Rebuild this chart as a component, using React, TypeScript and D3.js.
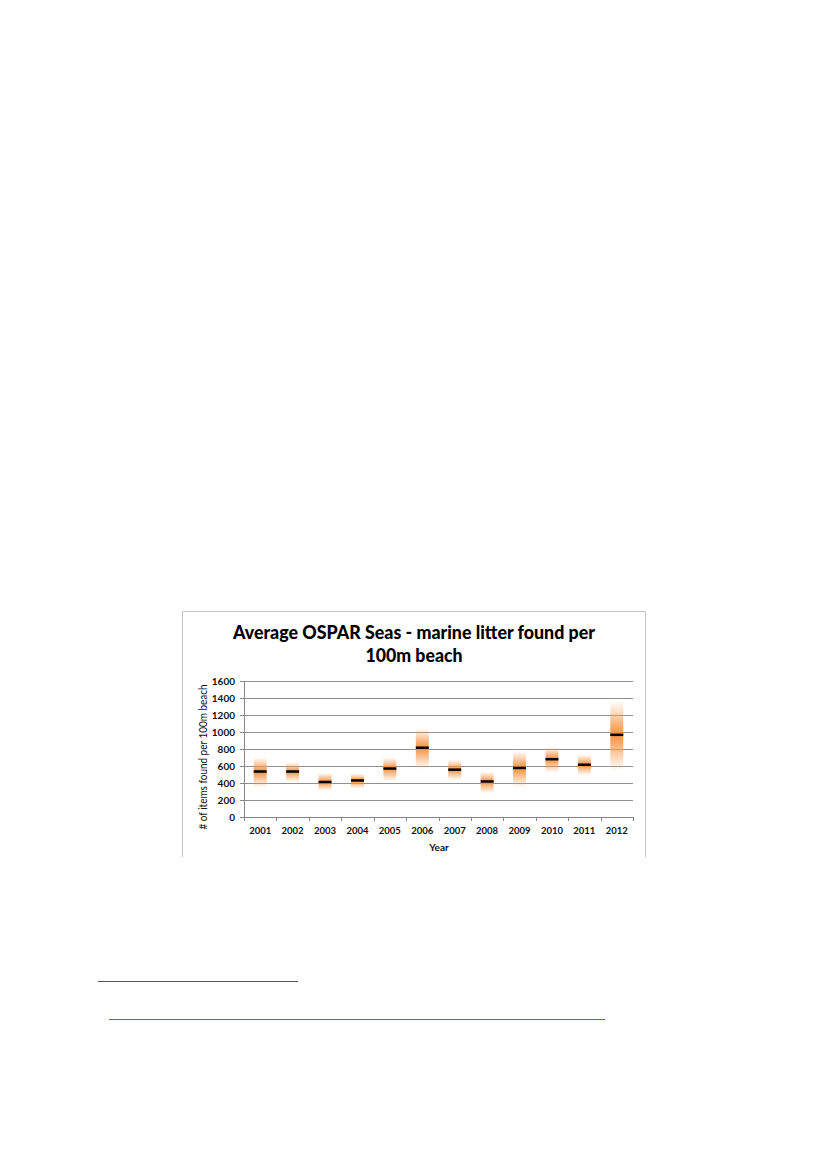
import React, { useEffect, useRef } from 'react';
import * as d3 from 'd3';

// Values: median and visible spread per year
const years = ['2001', '2002', '2003', '2004', '2005', '2006', '2007', '2008', '2009', '2010', '2011', '2012'];
const medians = [535, 535, 412, 430, 570, 815, 557, 418, 577, 680, 615, 967];
const lows = [350, 410, 308, 335, 420, 565, 435, 280, 350, 522, 492, 545];
const highs = [700, 645, 520, 512, 700, 1045, 675, 532, 775, 825, 735, 1365];
const yTicks = [0, 200, 400, 600, 800, 1000, 1200, 1400, 1600];

const ORANGE = '#F79646';
const GRID = '#858585';
const FONT = 'Lato, "Open Sans", sans-serif';

const App: React.FC = () => {
  const svgRef = useRef<SVGSVGElement>(null);

  useEffect(() => {
    if (!svgRef.current) return;
    const svg = d3.select(svgRef.current);
    svg.selectAll('*').remove();

    const left = 244;
    const right = 633;
    const bottom = 817;
    const top = 681;

    const x = d3.scaleBand<string>()
      .domain(years)
      .range([left, right])
      .paddingInner(0.6)
      .paddingOuter(0.3);
    const xCat = d3.scaleBand<string>().domain(years).range([left, right]);
    const y = d3.scaleLinear().domain([0, 1600]).range([bottom, top]);

    // chart frame (bottom edge is cut off on the page)
    svg.append('path')
      .attr('d', 'M182.5,857 V611.5 H645.5 V857')
      .attr('fill', 'none')
      .attr('stroke', '#C4C4C4')
      .attr('stroke-width', 1);

    // title
    const title = svg.append('text')
      .attr('text-anchor', 'middle')
      .attr('font-family', FONT)
      .attr('font-weight', 900)
      .attr('font-size', 19)
      .attr('fill', '#000');
    title.append('tspan').attr('x', 414).attr('y', 639).attr('textLength', 362)
      .attr('lengthAdjust', 'spacingAndGlyphs')
      .text('Average OSPAR Seas - marine litter found per');
    title.append('tspan').attr('x', 414).attr('y', 662).attr('textLength', 97)
      .attr('lengthAdjust', 'spacingAndGlyphs')
      .text('100m beach');

    // gridlines
    svg.append('g')
      .selectAll('line')
      .data(yTicks.filter(t => t > 0))
      .join('line')
      .attr('x1', left)
      .attr('x2', right)
      .attr('y1', d => Math.round(y(d)) + 0.5)
      .attr('y2', d => Math.round(y(d)) + 0.5)
      .attr('stroke', GRID)
      .attr('stroke-width', 0.9);

    // gradients
    const defs = svg.append('defs');
    years.forEach((yr, i) => {
      const m = (highs[i] - medians[i]) / (highs[i] - lows[i]);
      const g = defs.append('linearGradient')
        .attr('id', `grad-${yr}`)
        .attr('x1', 0).attr('x2', 0).attr('y1', 0).attr('y2', 1);
      const stops: [number, number][] = [
        [0, 0],
        [m * 0.45, 0.45],
        [m * 0.8, 0.85],
        [m, 1],
        [m + (1 - m) * 0.2, 0.85],
        [m + (1 - m) * 0.55, 0.45],
        [1, 0],
      ];
      stops.forEach(([o, op]) => {
        g.append('stop')
          .attr('offset', o)
          .attr('stop-color', ORANGE)
          .attr('stop-opacity', op);
      });
    });

    // boxes
    svg.append('g')
      .selectAll('rect')
      .data(years)
      .join('rect')
      .attr('x', d => x(d)!)
      .attr('width', x.bandwidth())
      .attr('y', (_, i) => y(highs[i]))
      .attr('height', (_, i) => y(lows[i]) - y(highs[i]))
      .attr('fill', d => `url(#grad-${d})`);

    // medians
    svg.append('g')
      .selectAll('line')
      .data(years)
      .join('line')
      .attr('x1', d => x(d)!)
      .attr('x2', d => x(d)! + x.bandwidth())
      .attr('y1', (_, i) => y(medians[i]))
      .attr('y2', (_, i) => y(medians[i]))
      .attr('stroke', '#000')
      .attr('stroke-width', 2.5);

    // axes
    svg.append('line')
      .attr('x1', left + 0.5).attr('x2', left + 0.5)
      .attr('y1', top).attr('y2', bottom)
      .attr('stroke', GRID);
    svg.append('line')
      .attr('x1', left).attr('x2', right)
      .attr('y1', bottom + 0.5).attr('y2', bottom + 0.5)
      .attr('stroke', GRID);

    svg.append('g')
      .selectAll('line')
      .data(yTicks)
      .join('line')
      .attr('x1', left - 4)
      .attr('x2', left)
      .attr('y1', d => Math.round(y(d)) + 0.5)
      .attr('y2', d => Math.round(y(d)) + 0.5)
      .attr('stroke', GRID);

    const bounds = years.map(d => xCat(d)!).concat([right]);
    svg.append('g')
      .selectAll('line')
      .data(bounds)
      .join('line')
      .attr('x1', d => Math.round(d) + 0.5)
      .attr('x2', d => Math.round(d) + 0.5)
      .attr('y1', bottom)
      .attr('y2', bottom + 4)
      .attr('stroke', GRID);

    svg.append('g')
      .selectAll('text')
      .data(yTicks)
      .join('text')
      .attr('x', 235)
      .attr('y', d => y(d) + 3.5)
      .attr('text-anchor', 'end')
      .attr('font-family', FONT)
      .attr('font-weight', 'bold')
      .attr('font-size', 10)
      .attr('fill', '#111')
      .text(d => d);

    svg.append('g')
      .selectAll('text')
      .data(years)
      .join('text')
      .attr('x', d => xCat(d)! + xCat.bandwidth() / 2)
      .attr('y', 834)
      .attr('text-anchor', 'middle')
      .attr('font-family', FONT)
      .attr('font-weight', 'bold')
      .attr('font-size', 9.5)
      .attr('fill', '#111')
      .text(d => d);

    svg.append('text')
      .attr('x', 439)
      .attr('y', 850.5)
      .attr('text-anchor', 'middle')
      .attr('font-family', FONT)
      .attr('font-weight', 'bold')
      .attr('font-size', 10)
      .attr('fill', '#111')
      .text('Year');

    svg.append('text')
      .attr('transform', 'translate(207,757) rotate(-90)')
      .attr('text-anchor', 'middle')
      .attr('font-family', FONT)
      .attr('font-size', 11)
      .attr('fill', '#111')
      .attr('textLength', 145)
      .attr('lengthAdjust', 'spacingAndGlyphs')
      .text('# of items found per 100m beach');

    // page rules below the figure
    svg.append('line')
      .attr('x1', 98).attr('x2', 298)
      .attr('y1', 981.5).attr('y2', 981.5)
      .attr('stroke', '#555')
      .attr('stroke-width', 1);
    svg.append('line')
      .attr('x1', 109).attr('x2', 605)
      .attr('y1', 1019.5).attr('y2', 1019.5)
      .attr('stroke', '#5a5ae0')
      .attr('stroke-width', 1);
  }, []);

  return (
    <svg
      ref={svgRef}
      width={827}
      height={1169}
      style={{ position: 'absolute', left: 0, top: 0, background: '#fff' }}
    />
  );
};

export default App;
